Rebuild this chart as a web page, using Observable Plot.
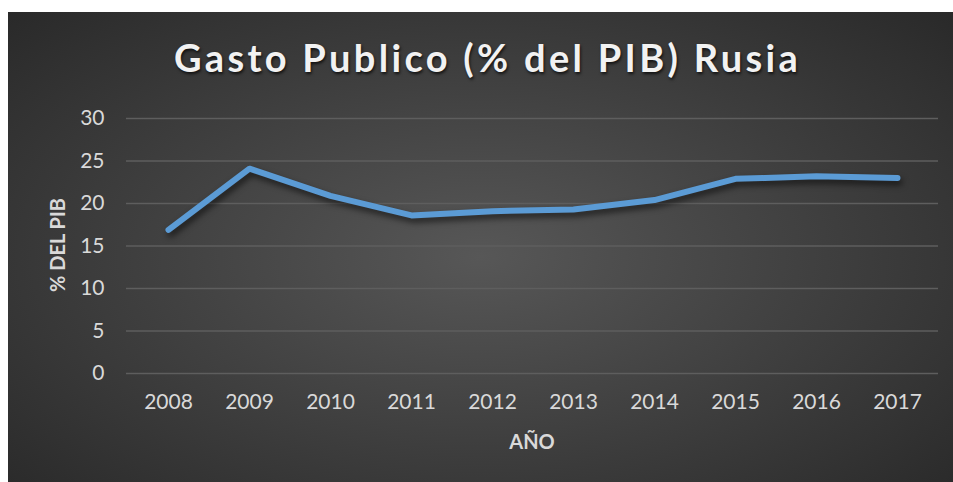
<!DOCTYPE html>
<html>
<head>
<meta charset="utf-8">
<script src="https://cdn.jsdelivr.net/npm/d3@7"></script>
<script src="https://cdn.jsdelivr.net/npm/@observablehq/plot@0.6"></script>
<style>
  html, body { margin: 0; padding: 0; background: #ffffff; }
  #chart {
    position: absolute; left: 8px; top: 12px; width: 945px; height: 470px;
    background: radial-gradient(ellipse 75% 80% at 50% 52%, #575757 0%, #3c3c3c 55%, #262626 100%);
    overflow: hidden;
  }
  #title {
    position: absolute; left: 7px; width: 945px; top: 22px; text-align: center;
    font-family: Lato, "Open Sans", sans-serif; font-weight: bold; font-size: 38px;
    letter-spacing: 3.3px; color: #f2f2f2; text-shadow: 1px 2px 3px rgba(0,0,0,0.7);
  }
  .axlabel {
    position: absolute; font-family: Lato, "Open Sans", sans-serif; font-weight: bold;
    font-size: 20px; color: #d9d9d9; white-space: nowrap;
  }
  #xlabel { left: 424px; width: 200px; text-align: center; top: 417px; }
  #ylabel { left: -51px; width: 200px; text-align: center; top: 221px; transform: rotate(-90deg); }
  #plot { position: absolute; left: 0; top: 0; }
  #plot svg { background: transparent; }
  g[aria-label="line"] path { filter: drop-shadow(2px 4px 3px rgba(0,0,0,0.6)); }
</style>
</head>
<body>
<div id="chart">
  <div id="plot"></div>
  <div id="title">Gasto Publico (% del PIB) Rusia</div>
  <div id="xlabel" class="axlabel">AÑO</div>
  <div id="ylabel" class="axlabel">% DEL PIB</div>
</div>
<script>
const years = ["2008","2009","2010","2011","2012","2013","2014","2015","2016","2017"];
const gasto = [16.9, 24.1, 20.9, 18.6, 19.1, 19.3, 20.4, 22.9, 23.2, 23.0];
const yTicks = [0, 5, 10, 15, 20, 25, 30];

const data = years.map((y, i) => ({year: y, value: gasto[i]}));

const plot = Plot.plot({
  width: 945,
  height: 470,
  marginLeft: 118,
  marginRight: 15,
  marginTop: 106,
  marginBottom: 109,
  style: { background: "transparent", color: "#d9d9d9", fontFamily: "Lato, 'Open Sans', sans-serif", fontSize: "21px", overflow: "visible" },
  x: { type: "point", domain: years, padding: 0.5, label: null, tickSize: 0, tickPadding: 21 },
  y: { domain: [0, 30], ticks: yTicks, label: null, tickSize: 0, tickPadding: 22 },
  marks: [
    Plot.ruleY(yTicks, { stroke: "#5e5e5e", strokeWidth: 1.3 }),
    Plot.line(data, { x: "year", y: "value", stroke: "#5B9BD5", strokeWidth: 6, strokeLinecap: "round", strokeLinejoin: "round" })
  ]
});
document.getElementById("plot").appendChild(plot);
</script>
</body>
</html>
